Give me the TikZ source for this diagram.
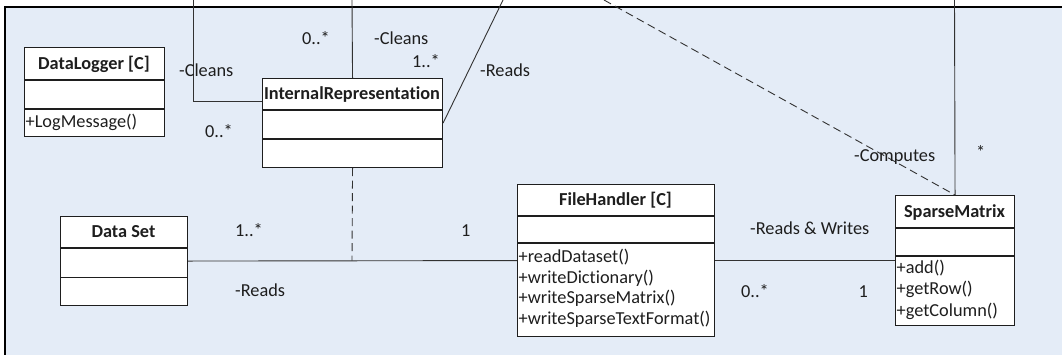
\documentclass[tikz,border=0pt]{standalone}
\usepackage{fontspec}
\setmainfont{Carlito}[Ligatures=NoCommon]
\usetikzlibrary{calc}
\definecolor{canvas}{RGB}{228,236,247}
\definecolor{ink}{RGB}{30,30,30}
\definecolor{wire}{RGB}{50,50,50}

\begin{document}
\begin{tikzpicture}[x=1pt,y=-1pt,
  font=\fontsize{18.3}{22}\selectfont,
  classbox/.style={draw=ink, line width=1.1pt, fill=white, inner sep=0pt, anchor=north west},
  divider/.style={draw=ink, line width=1.1pt},
  title/.style={font=\fontsize{18.3}{22}\selectfont\bfseries, text=ink, inner sep=0pt, text height=11.8pt, text depth=0pt},
  member/.style={text=ink, inner sep=0pt, anchor=west, text height=11.8pt, text depth=0pt},
  lbl/.style={text=ink, inner sep=0pt, anchor=west, text height=11.8pt, text depth=0pt},
  assoc/.style={draw=wire, line width=0.9pt},
  depend/.style={draw=wire, line width=0.9pt, dash pattern=on 8pt off 4.5pt},
]
\useasboundingbox (0,0) rectangle (1062,354);
\clip (0,0) rectangle (1062,354);

% package frame
\fill[canvas] (5,7) rectangle (1070,360);
\draw[black, line width=1.2pt] (5,360) -- (5,7) -- (1070,7);

% classes
\node[classbox, minimum width=140pt, minimum height=89pt] (dl) at (24,47) {};
\draw[divider] (24,80) -- (164,80);
\draw[divider] (24,109) -- (164,109);
\node[title] at (94,63.5) {DataLogger [C]};
\node[member] at (25.5,121.5) {+LogMessage()};

\node[classbox, minimum width=180pt, minimum height=89pt] (ir) at (262,78) {};
\draw[divider] (262,110) -- (442,110);
\draw[divider] (262,139) -- (442,139);
\node[title] at (352,94) {InternalRepresentation};

\node[classbox, minimum width=127pt, minimum height=89pt] (ds) at (60,216) {};
\draw[divider] (60,248) -- (187,248);
\draw[divider] (60,277.5) -- (187,277.5);
\node[title] at (123.5,232) {Data Set};

\node[classbox, minimum width=197pt, minimum height=152pt] (fh) at (517,184) {};
\draw[divider] (517,216) -- (714,216);
\draw[divider] (517,243) -- (714,243);
\node[title] at (615.5,200) {FileHandler [C]};
\node[member] at (518.5,257) {+readDataset()};
\node[member] at (518.5,277.5) {+writeDictionary()};
\node[member] at (518.5,298) {+writeSparseMatrix()};
\node[member] at (518.5,318.5) {+writeSparseTextFormat()};

\node[classbox, minimum width=119pt, minimum height=130pt] (sm) at (895,195) {};
\draw[divider] (895,228) -- (1014,228);
\draw[divider] (895,256) -- (1014,256);
\node[title] at (954.5,211.5) {SparseMatrix};
\node[member] at (896.5,267.5) {+add()};
\node[member] at (896.5,289) {+getRow()};
\node[member] at (896.5,310.5) {+getColumn()};

% free ends of connectors leaving the frame
\coordinate (cleanA) at (193,0);
\coordinate (cleanB) at (352,0);
\coordinate (readsTop) at (503,0);
\coordinate (computes) at (604,0);
\coordinate (smTop) at (954.5,0);
\coordinate (join) at (352,260.5);

% connectors
\draw[assoc] (cleanA) |- ($(ir.north west)+(0,23)$);
\draw[assoc] (cleanB) -- (ir.north);
\draw[assoc] (readsTop) -- (ir.east);
\draw[depend] (computes) -- (sm.north);
\draw[assoc] (smTop) -- (sm.north);
\draw[assoc] (ds.east) -- (fh.west);
\draw[depend] (ir.south) -- (join);
\draw[assoc] (fh.east) -- (sm.west);

% association labels
\node[lbl] at (302,39) {0..*};
\node[lbl] at (374,39) {-Cleans};
\node[lbl] at (412,62) {1..*};
\node[lbl] at (179,71) {-Cleans};
\node[lbl] at (480,71) {-Reads};
\node[lbl] at (205,132) {0..*};
\node[lbl] at (854,156) {-Computes};
\node[lbl] at (976,153) {*};
\node[lbl] at (235,231) {1..*};
\node[lbl] at (461,231) {1};
\node[lbl] at (235,291) {-Reads};
\node[lbl] at (750,229) {-Reads \& Writes};
\node[lbl] at (741,292) {0..*};
\node[lbl] at (858.5,292) {1};
\end{tikzpicture}
\end{document}
